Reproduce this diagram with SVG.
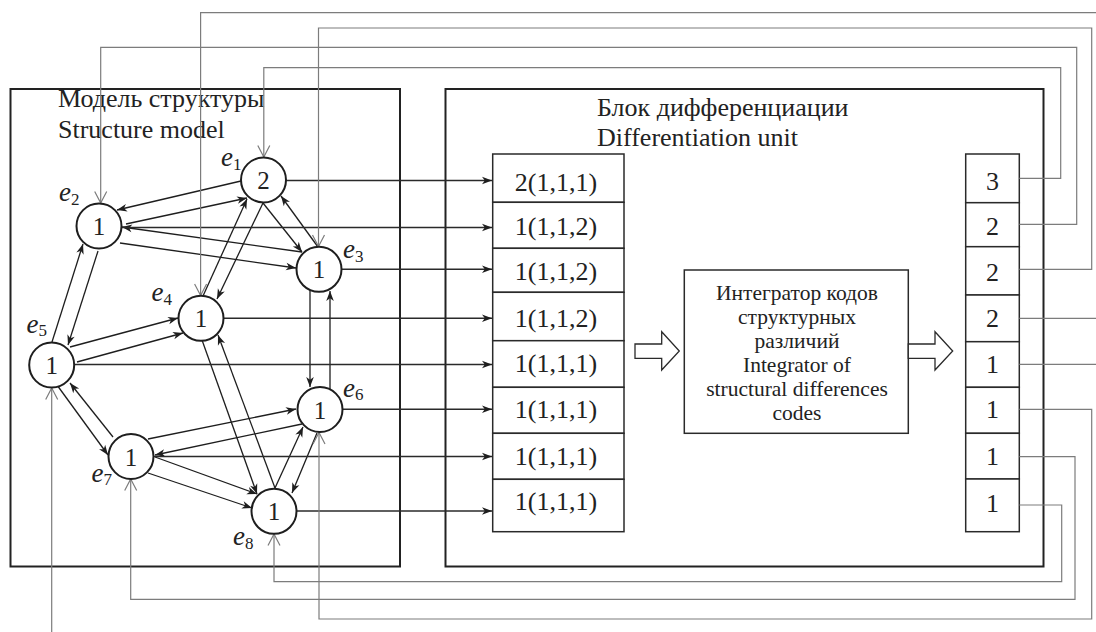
<svg xmlns="http://www.w3.org/2000/svg" width="1096" height="632" viewBox="0 0 1096 632">
  <defs>
    <style>
      .frame { fill: none; stroke: #222; stroke-width: 2; }
      .cell { fill: #fff; stroke: #2a2a2a; stroke-width: 1.5; }
      .node { fill: #fff; stroke: #1e1e1e; stroke-width: 2; }
      .edge { fill: none; stroke: #1e1e1e; stroke-width: 1.3; marker-end: url(#tip); }
      .out { fill: none; stroke: #2a2a2a; stroke-width: 1.5; marker-end: url(#tip); }
      .fb { fill: none; stroke: #7c7c7c; stroke-width: 1.2; }
      .fbin { fill: none; stroke: #7c7c7c; stroke-width: 1.2; marker-end: url(#vee); }
      .hollow { fill: #fff; stroke: #2a2a2a; stroke-width: 1.3; }
      .t { font-family: "Liberation Serif", "Times New Roman", serif; fill: #222; }
      .title { font-size: 26px; }
      .code { font-size: 26px; text-anchor: middle; }
      .num { font-size: 25px; text-anchor: middle; }
      .lab { font-size: 27px; font-style: italic; }
      .sub { font-size: 17px; font-style: normal; }
      .integ { font-size: 21.5px; text-anchor: middle; }
    </style>
    <marker id="tip" markerUnits="userSpaceOnUse" viewBox="-12 -6 13 12" markerWidth="13" markerHeight="12" refX="0" refY="0" orient="auto">
      <path d="M0,0 L-10,-3.8 L-7.2,0 L-10,3.8 Z" fill="#1e1e1e"/>
    </marker>
    <marker id="vee" markerUnits="userSpaceOnUse" viewBox="-13 -8 14 16" markerWidth="14" markerHeight="16" refX="0" refY="0" orient="auto">
      <path d="M-11.5,-6 L0,0 L-11.5,6" fill="none" stroke="#7c7c7c" stroke-width="1.2"/>
    </marker>
  </defs>

  <rect width="1096" height="632" fill="#fff"/>

  <!-- Structure model frame -->
  <g id="structure-model">
    <rect class="frame" x="10.5" y="89" width="389.5" height="477.5"/>
    <text class="t title" x="58" y="107">Модель структуры</text>
    <text class="t title" x="58" y="137.5">Structure model</text>
  </g>

  <!-- Differentiation unit frame -->
  <g id="differentiation-unit">
    <rect class="frame" x="445.5" y="89" width="598" height="477.5"/>
    <text class="t title" x="597" y="115.6">Блок дифференциации</text>
    <text class="t title" x="597" y="145.5">Differentiation unit</text>
  </g>

  <!-- Code table -->
  <g id="code-table">
    <rect class="cell" x="492.7" y="154" width="131.3" height="48.3"/>
    <rect class="cell" x="492.7" y="202.3" width="131.3" height="46"/>
    <rect class="cell" x="492.7" y="248.3" width="131.3" height="44"/>
    <rect class="cell" x="492.7" y="292.3" width="131.3" height="48.4"/>
    <rect class="cell" x="492.7" y="340.7" width="131.3" height="46.6"/>
    <rect class="cell" x="492.7" y="387.3" width="131.3" height="46"/>
    <rect class="cell" x="492.7" y="433.3" width="131.3" height="46"/>
    <rect class="cell" x="492.7" y="479.3" width="131.3" height="52.4"/>
    <text class="t code" x="556" y="190.7">2(1,1,1)</text>
    <text class="t code" x="556" y="235">1(1,1,2)</text>
    <text class="t code" x="556" y="280">1(1,1,2)</text>
    <text class="t code" x="556" y="326.7">1(1,1,2)</text>
    <text class="t code" x="556" y="371.7">1(1,1,1)</text>
    <text class="t code" x="556" y="418.3">1(1,1,1)</text>
    <text class="t code" x="556" y="465">1(1,1,1)</text>
    <text class="t code" x="556" y="510">1(1,1,1)</text>
  </g>

  <!-- Integrator -->
  <g id="integrator">
    <rect class="cell" x="684.3" y="270" width="224" height="163.3"/>
    <text class="t integ" x="797" y="300">Интегратор кодов</text>
    <text class="t integ" x="797" y="324">структурных</text>
    <text class="t integ" x="797" y="348">различий</text>
    <text class="t integ" x="797" y="372">Integrator of</text>
    <text class="t integ" x="797" y="396">structural differences</text>
    <text class="t integ" x="797" y="420">codes</text>
  </g>

  <!-- Result column -->
  <g id="result-column">
    <rect class="cell" x="965.7" y="154" width="53.6" height="48.7"/>
    <rect class="cell" x="965.7" y="202.7" width="53.6" height="44"/>
    <rect class="cell" x="965.7" y="246.7" width="53.6" height="48.3"/>
    <rect class="cell" x="965.7" y="295" width="53.6" height="46.7"/>
    <rect class="cell" x="965.7" y="341.7" width="53.6" height="45.6"/>
    <rect class="cell" x="965.7" y="387.3" width="53.6" height="46"/>
    <rect class="cell" x="965.7" y="433.3" width="53.6" height="45.7"/>
    <rect class="cell" x="965.7" y="479" width="53.6" height="52.7"/>
    <text class="t code" x="992.5" y="190">3</text>
    <text class="t code" x="992.5" y="235">2</text>
    <text class="t code" x="992.5" y="280.7">2</text>
    <text class="t code" x="992.5" y="326.7">2</text>
    <text class="t code" x="992.5" y="372.7">1</text>
    <text class="t code" x="992.5" y="418.3">1</text>
    <text class="t code" x="992.5" y="465">1</text>
    <text class="t code" x="992.5" y="511.7">1</text>
  </g>

  <!-- Block arrows -->
  <g id="block-arrows">
    <path class="hollow" d="M635,344 L661.7,344 L661.7,331.7 L679.3,351 L661.7,370 L661.7,358.3 L635,358.3 Z"/>
    <path class="hollow" d="M908.3,344 L935,344 L935,331.7 L952.7,351 L935,370 L935,358.3 L908.3,358.3 Z"/>
  </g>

  <g id="connectors">
    <!-- graph edges -->
    <line class="edge" x1="241" y1="181" x2="117" y2="210"/>
    <line class="edge" x1="126" y1="224" x2="247" y2="198"/>
    <line class="edge" x1="302" y1="252" x2="122" y2="227"/>
    <line class="edge" x1="120" y1="243" x2="296" y2="268"/>
    <line class="edge" x1="263" y1="203" x2="302" y2="252"/>
    <line class="edge" x1="318" y1="247" x2="281" y2="196"/>
    <line class="edge" x1="263" y1="203" x2="217" y2="299"/>
    <line class="edge" x1="203" y1="296" x2="247" y2="199"/>
    <line class="edge" x1="98" y1="251" x2="68" y2="345"/>
    <line class="edge" x1="52" y1="342" x2="83" y2="244"/>
    <line class="edge" x1="70" y1="347" x2="178" y2="318"/>
    <line class="edge" x1="77" y1="362" x2="183" y2="333"/>
    <line class="edge" x1="202" y1="340" x2="257" y2="494"/>
    <line class="edge" x1="275" y1="488" x2="218" y2="335"/>
    <line class="edge" x1="275" y1="488" x2="303" y2="427"/>
    <line class="edge" x1="317" y1="433" x2="292" y2="493"/>
    <line class="edge" x1="148" y1="439" x2="296" y2="409"/>
    <line class="edge" x1="302" y1="424" x2="155" y2="455"/>
    <line class="edge" x1="155" y1="457" x2="257" y2="494"/>
    <line class="edge" x1="148" y1="473" x2="252" y2="508"/>
    <line class="edge" x1="57" y1="385" x2="108" y2="455"/>
    <line class="edge" x1="113" y1="437" x2="70" y2="383"/>
    <line class="edge" x1="310" y1="290" x2="310" y2="387"/>
    <line class="edge" x1="330" y1="389" x2="330" y2="291"/>

    <!-- node outputs into the code table -->
    <line class="out" x1="286" y1="180.5" x2="492" y2="180.5"/>
    <line class="out" x1="122" y1="227.5" x2="492" y2="227.5"/>
    <line class="out" x1="342" y1="269.3" x2="492" y2="269.3"/>
    <line class="out" x1="224" y1="318.3" x2="492" y2="318.3"/>
    <line class="out" x1="75" y1="364.5" x2="492" y2="364.5"/>
    <line class="out" x1="343" y1="409.3" x2="492" y2="409.3"/>
    <line class="out" x1="154" y1="456.5" x2="492" y2="456.5"/>
    <line class="out" x1="297" y1="511" x2="492" y2="511"/>

    <!-- feedback from the result column -->
    <polyline class="fbin" points="1019.3,178.3 1060.7,178.3 1060.7,67.7 263.8,67.7 263.8,157"/>
    <polyline class="fbin" points="1019.3,224.3 1076.7,224.3 1076.7,47.4 100.7,47.4 100.7,203"/>
    <polyline class="fbin" points="1019.3,269.3 1091.7,269.3 1091.7,28 318.5,28 318.5,246.5"/>
    <polyline class="fbin" points="1096,12.6 200.6,12.6 200.6,295.5"/>
    <polyline class="fb" points="1019.3,318.3 1096,318.3"/>
    <polyline class="fb" points="1019.3,364.3 1096,364.3"/>
    <polyline class="fbin" points="51.7,632 51.7,388"/>
    <polyline class="fbin" points="1019.3,409.3 1091.7,409.3 1091.7,619 319,619 319,432.5"/>
    <polyline class="fbin" points="1019.3,456.7 1075,456.7 1075,599.3 130.7,599.3 130.7,479"/>
    <polyline class="fbin" points="1019.3,505 1061.7,505 1061.7,581.7 274,581.7 274,534"/>
  </g>

  <!-- graph nodes -->
  <g id="e1">
    <circle class="node" cx="263.5" cy="180" r="22.5"/>
    <text class="t num" x="263.5" y="189">2</text>
    <text class="t lab" x="221" y="166">e<tspan class="sub" dy="3.5">1</tspan></text>
  </g>
  <g id="e2">
    <circle class="node" cx="99" cy="226" r="22.5"/>
    <text class="t num" x="99" y="235">1</text>
    <text class="t lab" x="59" y="201">e<tspan class="sub" dy="3.5">2</tspan></text>
  </g>
  <g id="e3">
    <circle class="node" cx="319" cy="269.3" r="22.5"/>
    <text class="t num" x="319" y="278.3">1</text>
    <text class="t lab" x="343" y="258.3">e<tspan class="sub" dy="3.5">3</tspan></text>
  </g>
  <g id="e4">
    <circle class="node" cx="201" cy="318.3" r="22.5"/>
    <text class="t num" x="201" y="327.3">1</text>
    <text class="t lab" x="151.5" y="301">e<tspan class="sub" dy="3.5">4</tspan></text>
  </g>
  <g id="e5">
    <circle class="node" cx="51.7" cy="365" r="22.5"/>
    <text class="t num" x="51.7" y="374">1</text>
    <text class="t lab" x="26.5" y="332.7">e<tspan class="sub" dy="3.5">5</tspan></text>
  </g>
  <g id="e6">
    <circle class="node" cx="320" cy="409.5" r="22.5"/>
    <text class="t num" x="320" y="418.5">1</text>
    <text class="t lab" x="343" y="396.7">e<tspan class="sub" dy="3.5">6</tspan></text>
  </g>
  <g id="e7">
    <circle class="node" cx="131" cy="456.5" r="22.5"/>
    <text class="t num" x="131" y="465.5">1</text>
    <text class="t lab" x="91.5" y="481.7">e<tspan class="sub" dy="3.5">7</tspan></text>
  </g>
  <g id="e8">
    <circle class="node" cx="274" cy="511.3" r="22.5"/>
    <text class="t num" x="274" y="520.3">1</text>
    <text class="t lab" x="233" y="545">e<tspan class="sub" dy="3.5">8</tspan></text>
  </g>
</svg>
